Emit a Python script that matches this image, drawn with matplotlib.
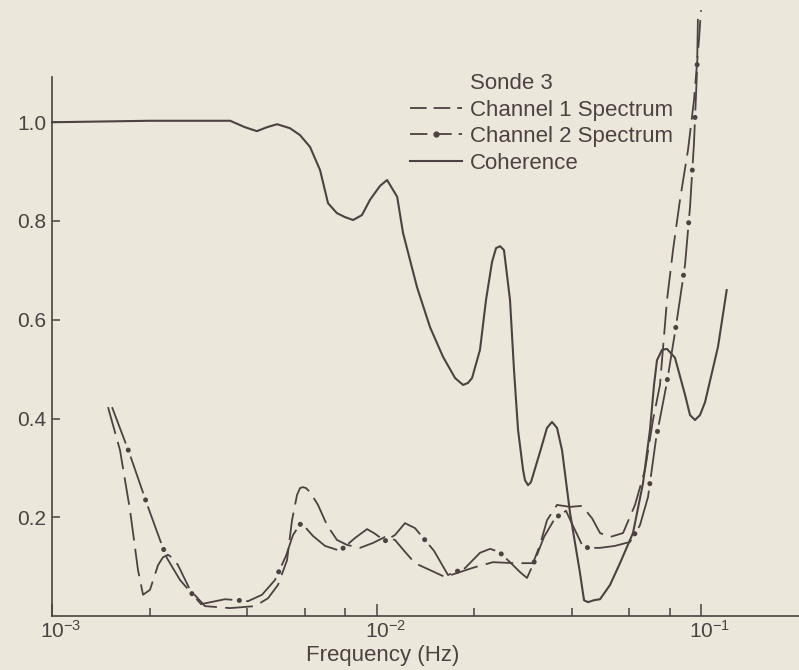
import matplotlib
matplotlib.use('Agg')
import matplotlib.pyplot as plt
import matplotlib.transforms as mtransforms
from matplotlib.lines import Line2D
from matplotlib.ticker import FixedLocator, NullFormatter

# values
coh_freq = [1.000e-3, 2.00e-3, 3.54e-3, 3.93e-3, 4.28e-3, 4.60e-3, 4.94e-3, 5.41e-3, 5.81e-3, 6.24e-3,
            6.70e-3, 7.09e-3, 7.55e-3, 7.99e-3, 8.47e-3, 9.02e-3, 9.55e-3, 1.025e-2, 1.078e-2, 1.158e-2,
            1.207e-2, 1.333e-2, 1.462e-2, 1.603e-2, 1.746e-2, 1.848e-2, 1.914e-2, 1.970e-2, 2.084e-2, 2.175e-2,
            2.270e-2, 2.335e-2, 2.403e-2, 2.471e-2, 2.579e-2, 2.653e-2, 2.730e-2, 2.829e-2, 2.868e-2, 2.931e-2,
            2.992e-2, 3.19e-2, 3.353e-2, 3.474e-2, 3.60e-2, 3.73e-2, 3.948e-2, 4.238e-2, 4.36e-2, 4.486e-2,
            4.68e-2, 4.886e-2, 5.244e-2, 5.628e-2, 6.171e-2, 6.627e-2, 6.963e-2, 7.165e-2, 7.318e-2, 7.582e-2,
            7.856e-2, 8.315e-2, 8.928e-2, 9.25e-2, 9.583e-2, 9.93e-2, 1.029e-1, 1.128e-1, 1.20e-1]
coherence = [1.000, 1.003, 1.003, 0.990, 0.982, 0.990, 0.996, 0.988, 0.974, 0.950,
             0.903, 0.836, 0.816, 0.808, 0.802, 0.812, 0.843, 0.871, 0.883, 0.849,
             0.776, 0.666, 0.585, 0.525, 0.482, 0.468, 0.472, 0.482, 0.539, 0.640,
             0.717, 0.745, 0.749, 0.741, 0.640, 0.498, 0.377, 0.296, 0.275, 0.265,
             0.271, 0.332, 0.381, 0.393, 0.381, 0.336, 0.209, 0.087, 0.032, 0.028,
             0.032, 0.034, 0.063, 0.107, 0.168, 0.269, 0.377, 0.468, 0.518, 0.539,
             0.541, 0.523, 0.448, 0.407, 0.397, 0.407, 0.433, 0.545, 0.66]

ch1_freq = [1.488e-3, 1.620e-3, 1.739e-3, 1.841e-3, 1.908e-3, 2.004e-3, 2.122e-3, 2.198e-3, 2.278e-3, 2.36e-3,
            2.445e-3, 2.663e-3, 2.961e-3, 3.536e-3, 4.223e-3, 4.632e-3, 4.971e-3, 5.30e-3, 5.491e-3, 5.689e-3,
            5.81e-3, 5.937e-3, 6.065e-3, 6.239e-3, 6.603e-3, 7.039e-3, 7.554e-3, 8.111e-3, 8.896e-3, 9.755e-3,
            1.062e-2, 1.140e-2, 1.224e-2, 1.314e-2, 1.462e-2, 1.626e-2, 1.808e-2, 2.012e-2, 2.286e-2, 2.672e-2,
            3.036e-2, 3.190e-2, 3.353e-2, 3.600e-2, 3.948e-2, 4.300e-2, 4.615e-2, 4.886e-2, 5.244e-2, 5.751e-2,
            6.261e-2, 6.721e-2, 7.114e-2, 7.474e-2, 7.856e-2, 8.199e-2, 8.615e-2, 9.120e-2, 9.515e-2, 9.858e-2,
            1.000e-1]
ch1_spec = [0.423, 0.336, 0.215, 0.093, 0.043, 0.053, 0.103, 0.119, 0.124, 0.117,
            0.103, 0.053, 0.020, 0.016, 0.020, 0.036, 0.063, 0.113, 0.194, 0.245,
            0.259, 0.261, 0.259, 0.251, 0.225, 0.184, 0.154, 0.144, 0.138, 0.148,
            0.160, 0.154, 0.130, 0.107, 0.093, 0.079, 0.089, 0.099, 0.109, 0.107,
            0.107, 0.144, 0.194, 0.225, 0.221, 0.223, 0.198, 0.168, 0.160, 0.168,
            0.225, 0.296, 0.397, 0.468, 0.640, 0.741, 0.843, 0.944, 1.045, 1.167,
            1.227]

ch2_freq = [1.531e-3, 1.727e-3, 1.976e-3, 2.152e-3, 2.262e-3, 2.480e-3, 2.879e-3, 3.413e-3, 4.018e-3, 4.438e-3,
            4.866e-3, 5.262e-3, 5.530e-3, 5.812e-3, 6.065e-3, 6.374e-3, 6.939e-3, 7.72e-3, 8.586e-3, 9.349e-3,
            9.824e-3, 1.062e-2, 1.140e-2, 1.224e-2, 1.314e-2, 1.504e-2, 1.661e-2, 1.874e-2, 2.084e-2, 2.238e-2,
            2.385e-2, 2.579e-2, 2.768e-2, 2.909e-2, 3.079e-2, 3.282e-2, 3.549e-2, 3.837e-2, 4.090e-2, 4.300e-2,
            4.486e-2, 4.886e-2, 5.433e-2, 6.042e-2, 6.486e-2, 6.866e-2, 7.266e-2, 7.856e-2, 8.375e-2, 8.928e-2,
            9.250e-2, 9.515e-2, 9.721e-2, 9.790e-2]
ch2_spec = [0.423, 0.332, 0.221, 0.154, 0.117, 0.073, 0.024, 0.034, 0.030, 0.043,
            0.073, 0.122, 0.164, 0.186, 0.178, 0.162, 0.142, 0.132, 0.158, 0.176,
            0.168, 0.152, 0.164, 0.188, 0.178, 0.132, 0.083, 0.097, 0.128, 0.136,
            0.130, 0.109, 0.089, 0.077, 0.113, 0.160, 0.198, 0.213, 0.174, 0.144,
            0.138, 0.138, 0.142, 0.150, 0.184, 0.241, 0.358, 0.474, 0.587, 0.711,
            0.828, 0.958, 1.104, 1.221]

legend_labels = ['Sonde 3', 'Channel 1 Spectrum', 'Channel 2 Spectrum', 'Coherence']
x_ticks = [1e-3, 1e-2, 1e-1]
x_ticklabels = [r'$\mathregular{10^{-3}}$', r'$\mathregular{10^{-2}}$', r'$\mathregular{10^{-1}}$']
x_minor = [2e-3, 4e-3, 6e-3, 8e-3, 2e-2, 4e-2, 6e-2, 8e-2]
y_ticks = [0.2, 0.4, 0.6, 0.8, 1.0]
y_ticklabels = ['0.2', '0.4', '0.6', '0.8', '1.0']

plt.rcParams['font.family'] = 'Liberation Sans'
plt.rcParams['mathtext.fontset'] = 'custom'
plt.rcParams['mathtext.rm'] = 'Liberation Sans'
plt.rcParams['lines.scale_dashes'] = False

bg = '#ebe7db'
ink = '#4d4141'

fig = plt.figure(figsize=(7.99, 6.70), dpi=100, facecolor=bg)
ax = fig.add_axes([52 / 799, 54 / 670, 747 / 799, 539 / 670])
ax.set_facecolor(bg)
ax.set_xscale('log')
ax.set_xlim(1e-3, 10 ** (-3 + 747 / 324.5))
ax.set_ylim(0, 539 / 493.75)

# curves
ax.plot(coh_freq, coherence, color=ink, lw=1.5, clip_on=False)
ax.plot(ch1_freq, ch1_spec, color=ink, lw=1.3, linestyle=(0, (20, 6)), clip_on=False)
ax.plot(ch2_freq, ch2_spec, color=ink, lw=1.3, linestyle=(0, (28, 10)), clip_on=False)
ax.plot(ch2_freq, ch2_spec, color=ink, lw=3.6, linestyle=(5, (0.1, 37.9)),
        dash_capstyle='round', clip_on=False)

for side in ['top', 'right']:
    ax.spines[side].set_visible(False)
for side in ['left', 'bottom']:
    ax.spines[side].set_color(ink)
    ax.spines[side].set_linewidth(1.2)

ax.xaxis.set_major_locator(FixedLocator(x_ticks))
ax.set_xticklabels(x_ticklabels)
ax.xaxis.set_minor_locator(FixedLocator(x_minor))
ax.xaxis.set_minor_formatter(NullFormatter())
ax.set_yticks(y_ticks)
ax.set_yticklabels(y_ticklabels)

ax.tick_params(axis='x', which='major', direction='in', length=9, width=1.1,
               color=ink, labelcolor=ink, labelsize=15, pad=3)
ax.tick_params(axis='x', which='minor', direction='in', length=6, width=1.1, color=ink)
ax.tick_params(axis='y', direction='in', length=6, width=1.1,
               color=ink, labelcolor=ink, labelsize=15, pad=4)

# labels sit a little to the right of their ticks in the original
shift = mtransforms.ScaledTranslation(9 / 100, 0, fig.dpi_scale_trans)
for lab in ax.get_xticklabels():
    lab.set_transform(lab.get_transform() + shift)

ax.set_xlabel('Frequency (Hz)', fontsize=16, color=ink)
ax.xaxis.set_label_coords((383 - 52) / 747, -(645 - 616) / 539)

h0 = Line2D([], [], color='none')
h1 = Line2D([], [], color=ink, lw=1.3, linestyle=(0, (12, 5)))
h2 = Line2D([], [], color=ink, lw=1.3, linestyle=(0, (12.5, 5)), marker='o', ms=3.5, mfc=ink, mec=ink)
h3 = Line2D([], [], color=ink, lw=1.5)
leg = ax.legend([h0, h1, h2, h3], legend_labels, loc='upper left',
                bbox_to_anchor=(410 / 799, 1 - 73 / 670), bbox_transform=fig.transFigure,
                frameon=False, fontsize=16, handlelength=2.35, handletextpad=0.35,
                labelspacing=0.25, borderpad=0, borderaxespad=0, numpoints=1)
for t in leg.get_texts():
    t.set_color(ink)

fig.savefig('out.png', dpi=100, facecolor=bg)
